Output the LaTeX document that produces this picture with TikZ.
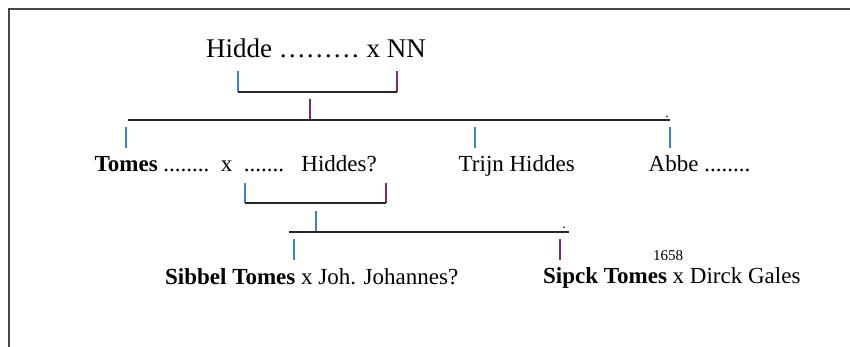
\documentclass[tikz,border=0pt]{standalone}
\usepackage{fontspec}
\setmainfont{Liberation Serif}
\definecolor{tickblue}{RGB}{60,130,205}
\definecolor{tickpurple}{RGB}{125,40,115}
\definecolor{framegray}{RGB}{70,70,70}
\begin{document}
\begin{tikzpicture}
    \def\dx{1pt}
    \def\dy{1pt}

    \useasboundingbox (0,0) rectangle (850*\dx,-347*\dy);

    \tikzstyle{big}=[inner sep=0pt,anchor=base west,font=\fontsize{27}{30}\selectfont]
    \tikzstyle{person}=[inner sep=0pt,anchor=base west,font=\fontsize{23}{26}\selectfont]
    \tikzstyle{year}=[inner sep=0pt,anchor=base west,font=\fontsize{15}{17}\selectfont]
    \tikzstyle{enddot}=[inner sep=0pt,anchor=base,font=\fontsize{14}{16}\selectfont]

    % frame
    \draw[framegray, line width=2.2pt] (9*\dx,-347*\dy) -- (9*\dx,-9*\dy) -- (850*\dx,-9*\dy);

    \node[big]    (hidde)  at (206*\dx,-58*\dy) {Hidde ……… x NN};
    \node[person] (tomes)  at (94.5*\dx,-172*\dy) {\textbf{Tomes} ........~~x~~.......~~~Hiddes?};
    \node[person] (trijn)  at (458.5*\dx,-172*\dy) {Trijn Hiddes};
    \node[person] (abbe)   at (648.5*\dx,-172*\dy) {Abbe ........};
    \node[person] (sibbel) at (165*\dx,-284*\dy) {\textbf{Sibbel Tomes} x Joh. Johannes?};
    \node[person] (sipck)  at (543*\dx,-283*\dy) {\textbf{Sipck Tomes} x Dirck Gales};
    \node[year]   (year)   at (653*\dx,-260.5*\dy) {1658};
    \node[enddot] (dota)   at (667*\dx,-117.5*\dy) {.};
    \node[enddot] (dotb)   at (564*\dx,-228.5*\dy) {.};

    % first generation
    \coordinate (pa)  at (238*\dx,-71.5*\dy);
    \coordinate (paa) at (238*\dx,-92*\dy);
    \coordinate (ma)  at (397*\dx,-71.5*\dy);
    \coordinate (maa) at (397*\dx,-92*\dy);
    \coordinate (sa)  at (310*\dx,-99*\dy);
    \coordinate (saa) at (310*\dx,-120*\dy);
    \coordinate (la)  at (128*\dx,-120*\dy);
    \coordinate (ra)  at (670*\dx,-120*\dy);
    \coordinate (ta)  at (126*\dx,-127.5*\dy);
    \coordinate (taa) at (126*\dx,-148*\dy);
    \coordinate (tb)  at (475*\dx,-127.5*\dy);
    \coordinate (tbb) at (475*\dx,-148*\dy);
    \coordinate (tc)  at (670*\dx,-127.5*\dy);
    \coordinate (tcc) at (670*\dx,-148*\dy);

    % second generation
    \coordinate (pb)  at (245*\dx,-183*\dy);
    \coordinate (pbb) at (245*\dx,-203.5*\dy);
    \coordinate (mb)  at (386*\dx,-183*\dy);
    \coordinate (mbb) at (386*\dx,-203.5*\dy);
    \coordinate (sb)  at (316*\dx,-211.5*\dy);
    \coordinate (sbb) at (316*\dx,-231.5*\dy);
    \coordinate (lb)  at (288.5*\dx,-231.5*\dy);
    \coordinate (rb)  at (568.5*\dx,-231.5*\dy);
    \coordinate (td)  at (294*\dx,-239*\dy);
    \coordinate (tdd) at (294*\dx,-260*\dy);
    \coordinate (te)  at (560*\dx,-239*\dy);
    \coordinate (tee) at (560*\dx,-260*\dy);

    \tikzstyle{bar}   = [draw=black!85, line width=2pt]
    \tikzstyle{tickl} = [draw=tickblue, line width=1.4pt]
    \tikzstyle{tickr} = [draw=tickpurple, line width=1.4pt]

          \draw [tickl] (pa) -- (paa);
          \draw [tickr] (ma) -- (maa);
          \draw [bar] (paa) -- (maa);
          \draw [tickr] (sa) -- (saa);
          \draw [bar] (la) -- (ra);
          \draw [tickl] (ta) -- (taa);
          \draw [tickl] (tb) -- (tbb);
          \draw [tickl] (tc) -- (tcc);

          \draw [tickl] (pb) -- (pbb);
          \draw [tickr] (mb) -- (mbb);
          \draw [bar] (pbb) -- (mbb);
          \draw [tickl] (sb) -- (sbb);
          \draw [bar] (lb) -- (rb);
          \draw [tickl] (td) -- (tdd);
          \draw [tickr] (te) -- (tee);
  \end{tikzpicture}
\end{document}
